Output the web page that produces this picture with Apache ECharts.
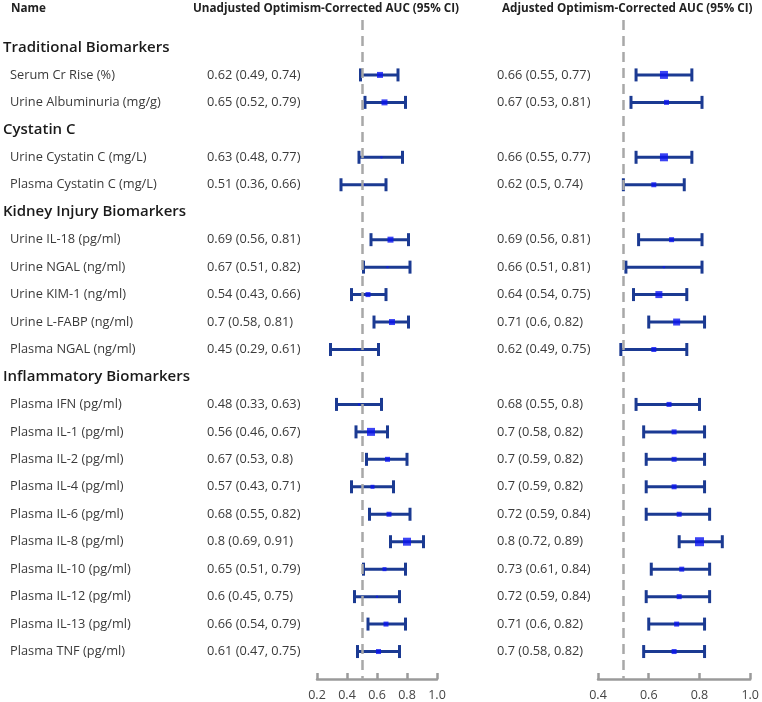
<!DOCTYPE html>
<html>
<head>
<meta charset="utf-8">
<script src="https://cdn.jsdelivr.net/npm/echarts@6/dist/echarts.min.js"></script>
<style>
html,body{margin:0;padding:0;background:#fff;}
#chart{width:762px;height:702px;}
</style>
</head>
<body>
<div id="chart"></div>
<script>
// ---- data ----
const rowLabels = [
  "Traditional Biomarkers",
  "Serum Cr Rise (%)",
  "Urine Albuminuria (mg/g)",
  "Cystatin C",
  "Urine Cystatin C (mg/L)",
  "Plasma Cystatin C (mg/L)",
  "Kidney Injury Biomarkers",
  "Urine IL-18 (pg/ml)",
  "Urine NGAL (ng/ml)",
  "Urine KIM-1 (ng/ml)",
  "Urine L-FABP (ng/ml)",
  "Plasma NGAL (ng/ml)",
  "Inflammatory Biomarkers",
  "Plasma IFN (pg/ml)",
  "Plasma IL-1 (pg/ml)",
  "Plasma IL-2 (pg/ml)",
  "Plasma IL-4 (pg/ml)",
  "Plasma IL-6 (pg/ml)",
  "Plasma IL-8 (pg/ml)",
  "Plasma IL-10 (pg/ml)",
  "Plasma IL-12 (pg/ml)",
  "Plasma IL-13 (pg/ml)",
  "Plasma TNF (pg/ml)"
];
const isHeader = [1,0,0,1,0,0,1,0,0,0,0,0,1,0,0,0,0,0,0,0,0,0,0];

const unadjAUC = [null,0.62,0.65,null,0.63,0.51,null,0.69,0.67,0.54,0.7,0.45,null,0.48,0.56,0.67,0.57,0.68,0.8,0.65,0.6,0.66,0.61];
const unadjLo  = [null,0.49,0.52,null,0.48,0.36,null,0.56,0.51,0.43,0.58,0.29,null,0.33,0.46,0.53,0.43,0.55,0.69,0.51,0.45,0.54,0.47];
const unadjHi  = [null,0.74,0.79,null,0.77,0.66,null,0.81,0.82,0.66,0.81,0.61,null,0.63,0.67,0.8,0.71,0.82,0.91,0.79,0.75,0.79,0.75];
const unadjWeight = [0,6,6,0,2,2,0,6,2,5,6,2,0,2,8,5,4,5,8,4,2,5,5];

const adjAUC = [null,0.66,0.67,null,0.66,0.62,null,0.69,0.66,0.64,0.71,0.62,null,0.68,0.7,0.7,0.7,0.72,0.8,0.73,0.72,0.71,0.7];
const adjLo  = [null,0.55,0.53,null,0.55,0.5,null,0.56,0.51,0.54,0.6,0.49,null,0.55,0.58,0.59,0.59,0.59,0.72,0.61,0.59,0.6,0.58];
const adjHi  = [null,0.77,0.81,null,0.77,0.74,null,0.81,0.81,0.75,0.82,0.75,null,0.8,0.82,0.82,0.82,0.84,0.89,0.84,0.84,0.82,0.82];
const adjWeight = [0,8,5,0,8,5,0,5,2,7,7,5,0,5,5,5,5,5,9,5,5,5,5];

const leftTicks = [0.2,0.4,0.6,0.8,1.0];
const rightTicks = [0.4,0.6,0.8,1.0];
const refValue = 0.5;

const colTitles = ["Name","Unadjusted Optimism-Corrected AUC (95% CI)","Adjusted Optimism-Corrected AUC (95% CI)"];

// ---- styles ----
const BAR_COLOR = '#1b3a92';
const PT_COLOR = '#0a14f0';
const AXIS_COLOR = '#9a9a9a';
const FONT = '"Open Sans", "Noto Sans", sans-serif';

const chart = echarts.init(document.getElementById('chart'), null, {renderer:'canvas'});

function ciText(a,l,h){ return a + ' (' + l + ', ' + h + ')'; }

function barData(lo, hi){
  const d = [];
  for (let i=0;i<rowLabels.length;i++) if(!isHeader[i]) d.push([lo[i], hi[i], i]);
  return d;
}
function ptData(auc, w){
  const d = [];
  for (let i=0;i<rowLabels.length;i++) if(!isHeader[i]) d.push([auc[i], i, w[i]]);
  return d;
}
function renderBar(params, api){
  const p1 = api.coord([api.value(0), api.value(2)]);
  const p2 = api.coord([api.value(1), api.value(2)]);
  const cap = 6.5;
  const st = {stroke: BAR_COLOR, lineWidth: 3};
  return {type:'group', children:[
    {type:'line', shape:{x1:p1[0],y1:p1[1],x2:p2[0],y2:p2[1]}, style:st},
    {type:'line', shape:{x1:p1[0],y1:p1[1]-cap,x2:p1[0],y2:p1[1]+cap}, style:st},
    {type:'line', shape:{x1:p2[0],y1:p2[1]-cap,x2:p2[0],y2:p2[1]+cap}, style:st}
  ]};
}
function renderText(params, api){
  const i = params.dataIndex;
  const y = api.coord([0.2, i])[1];
  const children = [];
  if (isHeader[i]) {
    children.push({type:'text', x:3, y:y, style:{text:rowLabels[i], fill:'#1a1a1a', font:'600 15px ' + FONT, textVerticalAlign:'middle', textAlign:'left'}});
  } else {
    const f = '12.8px ' + FONT;
    children.push({type:'text', x:10, y:y, style:{text:rowLabels[i], fill:'#3a3a3a', font:f, textVerticalAlign:'middle', textAlign:'left'}});
    children.push({type:'text', x:207, y:y, style:{text:ciText(unadjAUC[i],unadjLo[i],unadjHi[i]), fill:'#3a3a3a', font:f, textVerticalAlign:'middle', textAlign:'left'}});
    children.push({type:'text', x:497, y:y, style:{text:ciText(adjAUC[i],adjLo[i],adjHi[i]), fill:'#3a3a3a', font:f, textVerticalAlign:'middle', textAlign:'left'}});
  }
  return {type:'group', children:children};
}

const xAxisCommon = {
  type:'value',
  position:'bottom',
  axisLine:{show:true, onZero:false, lineStyle:{color:AXIS_COLOR, width:2.5}},
  axisTick:{show:true, inside:true, length:6, lineStyle:{color:AXIS_COLOR, width:2.5}},
  splitLine:{show:false},
  axisLabel:{color:'#444', fontSize:12.5, fontFamily:FONT, margin:10, formatter:v=>v.toFixed(1)}
};
const yAxisCommon = {type:'value', min:-1, max:23, inverse:true, show:false};

const refLine = {
  silent:true, symbol:'none', label:{show:false},
  lineStyle:{color:'#a8a8a8', type:[10,6], width:2.5},
  data:[{xAxis:refValue}]
};

const option = {
  animation:false,
  backgroundColor:'#ffffff',
  grid:[
    {left:317, width:120, top:20, height:661},
    {left:598, width:153, top:20, height:661}
  ],
  xAxis:[
    Object.assign({}, xAxisCommon, {gridIndex:0, min:leftTicks[0], max:leftTicks[leftTicks.length-1], interval:0.2}),
    Object.assign({}, xAxisCommon, {gridIndex:1, min:rightTicks[0], max:rightTicks[rightTicks.length-1], interval:0.2})
  ],
  yAxis:[
    Object.assign({}, yAxisCommon, {gridIndex:0}),
    Object.assign({}, yAxisCommon, {gridIndex:1})
  ],
  graphic:[
    {type:'text', left:11, top:3, style:{text:colTitles[0], fill:'#222', font:'bold 11.7px ' + FONT}},
    {type:'text', left:193, top:3, style:{text:colTitles[1], fill:'#222', font:'bold 11.7px ' + FONT}},
    {type:'text', left:502, top:3, style:{text:colTitles[2], fill:'#222', font:'bold 11.7px ' + FONT}}
  ],
  series:[
    {type:'custom', xAxisIndex:0, yAxisIndex:0, clip:false, silent:true,
     data:barData(unadjLo, unadjHi), encode:{x:[0,1], y:2}, renderItem:renderBar, z:3,
     markLine:refLine},
    {type:'custom', xAxisIndex:1, yAxisIndex:1, clip:false, silent:true,
     data:barData(adjLo, adjHi), encode:{x:[0,1], y:2}, renderItem:renderBar, z:3,
     markLine:refLine},
    {type:'scatter', xAxisIndex:0, yAxisIndex:0, symbol:'rect', z:4,
     data:ptData(unadjAUC, unadjWeight), symbolSize:d=>d[2], itemStyle:{color:PT_COLOR}},
    {type:'scatter', xAxisIndex:1, yAxisIndex:1, symbol:'rect', z:4,
     data:ptData(adjAUC, adjWeight), symbolSize:d=>d[2], itemStyle:{color:PT_COLOR}},
    {type:'custom', xAxisIndex:0, yAxisIndex:0, clip:false, silent:true,
     data:rowLabels.map((l,i)=>[0.2,i]), encode:{x:0,y:1}, renderItem:renderText, z:5}
  ]
};
chart.setOption(option);
</script>
</body>
</html>
